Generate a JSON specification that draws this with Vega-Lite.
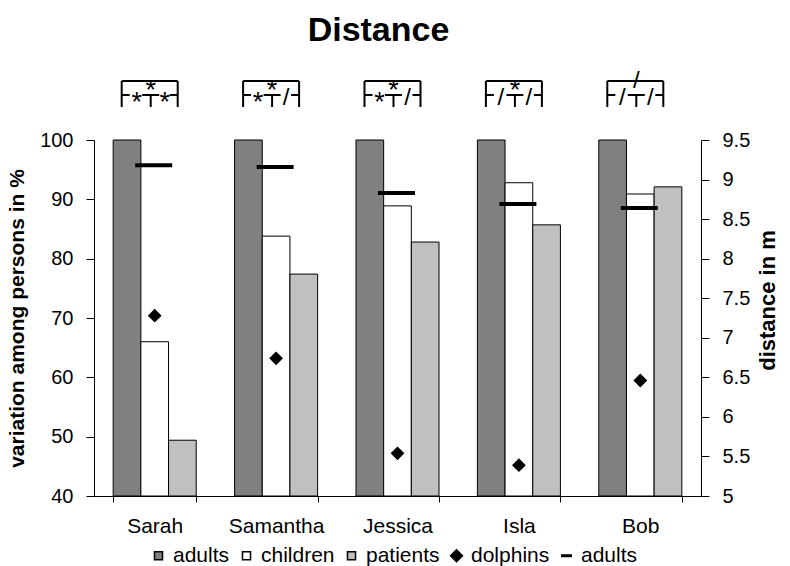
{
  "$schema": "https://vega.github.io/schema/vega-lite/v6.json",
  "width": 607,
  "height": 356,
  "autosize": {"type": "none"},
  "padding": {"left": 94, "top": 140, "right": 89, "bottom": 70},
  "background": "white",
  "config": {
    "font": "Liberation Sans",
    "view": {"stroke": null},
    "axis": {"grid": false, "domainColor": "black", "tickColor": "black", "labelColor": "black", "titleColor": "black", "domainWidth": 1, "tickWidth": 1}
  },
  "title": {"text": "Distance", "fontSize": 34, "fontWeight": "bold", "anchor": "middle", "offset": 21, "color": "black", "dx": -19},
  "datasets": {
    "bars": [
      {"name": "Sarah", "series": "adults", "value": 100},
      {"name": "Sarah", "series": "children", "value": 66.0},
      {"name": "Sarah", "series": "patients", "value": 49.4},
      {"name": "Samantha", "series": "adults", "value": 100},
      {"name": "Samantha", "series": "children", "value": 83.8},
      {"name": "Samantha", "series": "patients", "value": 77.4},
      {"name": "Jessica", "series": "adults", "value": 100},
      {"name": "Jessica", "series": "children", "value": 88.9},
      {"name": "Jessica", "series": "patients", "value": 82.8},
      {"name": "Isla", "series": "adults", "value": 100},
      {"name": "Isla", "series": "children", "value": 92.8},
      {"name": "Isla", "series": "patients", "value": 85.7},
      {"name": "Bob", "series": "adults", "value": 100},
      {"name": "Bob", "series": "children", "value": 90.9},
      {"name": "Bob", "series": "patients", "value": 92.1}
    ],
    "dist": [
      {"name": "Sarah", "series": "dolphins", "value": 7.28},
      {"name": "Samantha", "series": "dolphins", "value": 6.74},
      {"name": "Jessica", "series": "dolphins", "value": 5.54},
      {"name": "Isla", "series": "dolphins", "value": 5.39},
      {"name": "Bob", "series": "dolphins", "value": 6.46},
      {"name": "Sarah", "series": "adults (m)", "value": 9.18},
      {"name": "Samantha", "series": "adults (m)", "value": 9.16},
      {"name": "Jessica", "series": "adults (m)", "value": 8.83},
      {"name": "Isla", "series": "adults (m)", "value": 8.69},
      {"name": "Bob", "series": "adults (m)", "value": 8.64}
    ],
    "sig": [
      {"name": "Sarah", "top": "*", "left": "*", "right": "*"},
      {"name": "Samantha", "top": "*", "left": "*", "right": "/"},
      {"name": "Jessica", "top": "*", "left": "*", "right": "/"},
      {"name": "Isla", "top": "*", "left": "/", "right": "/"},
      {"name": "Bob", "top": "/", "left": "/", "right": "/"}
    ]
  },
  "layer": [
    {
      "layer": [
        {
          "data": {"name": "bars"},
          "mark": {"type": "bar", "stroke": "black", "strokeWidth": 1},
          "encoding": {
            "x": {
              "field": "name", "type": "nominal", "sort": null,
              "scale": {"domain": ["Sarah", "Samantha", "Jessica", "Isla", "Bob"], "paddingInner": 0.316, "paddingOuter": 0.158},
              "axis": {"title": null, "labelFontSize": 21, "tickSize": 6, "tickBand": "extent", "labelPadding": 13, "labelAngle": 0}
            },
            "xOffset": {"field": "series", "type": "nominal", "scale": {"domain": ["adults", "children", "patients"], "paddingInner": 0, "paddingOuter": 0}},
            "y": {
              "field": "value", "type": "quantitative",
              "scale": {"domain": [40, 100]},
              "axis": {"values": [40, 50, 60, 70, 80, 90, 100], "title": "variation among persons in %", "titleFontSize": 21, "titleFontWeight": "bold", "labelFontSize": 20, "tickSize": 8, "labelPadding": 13, "titlePadding": 12}
            },
            "y2": {"datum": 40},
            "fill": {
              "field": "series", "type": "nominal",
              "scale": {"domain": ["adults", "children", "patients", "dolphins", "adults (m)"], "range": ["#808080", "#ffffff", "#c0c0c0", "#000000", "#000000"]},
              "legend": {
                "orient": "none", "legendX": 54, "legendY": 405, "direction": "horizontal", "columns": 5, "title": null,
                "labelFontSize": 21, "labelColor": "black", "symbolSize": 144, "labelOffset": 4, "columnPadding": 6, "padding": 0,
                "labelExpr": "datum.label == 'adults (m)' ? 'adults' : datum.label",
                "encode": {"symbols": {"update": {"stroke": {"value": "black"}, "strokeWidth": {"value": 1}, "opacity": {"value": 1}}}}
              }
            }
          }
        },
        {
          "data": {"name": "sig"},
          "mark": {"type": "rule", "xOffset": -33, "strokeWidth": 2, "color": "black", "opacity": 1},
          "encoding": {"x": {"field": "name", "type": "nominal", "bandPosition": 0.5}, "y": {"datum": 109.94}, "y2": {"datum": 105.56}}
        },
        {
          "data": {"name": "sig"},
          "mark": {"type": "rule", "xOffset": 23, "strokeWidth": 2, "color": "black", "opacity": 1},
          "encoding": {"x": {"field": "name", "type": "nominal", "bandPosition": 0.5}, "y": {"datum": 109.94}, "y2": {"datum": 105.56}}
        },
        {
          "data": {"name": "sig"},
          "mark": {"type": "rule", "xOffset": -4, "strokeWidth": 2, "color": "black", "opacity": 1},
          "encoding": {"x": {"field": "name", "type": "nominal", "bandPosition": 0.5}, "y": {"datum": 107.58}, "y2": {"datum": 105.56}}
        },
        {
          "data": {"name": "sig"},
          "mark": {"type": "tick", "orient": "horizontal", "size": 56, "thickness": 2, "xOffset": -5, "color": "black", "opacity": 1},
          "encoding": {"x": {"field": "name", "type": "nominal"}, "y": {"datum": 109.94}}
        },
        {
          "data": {"name": "sig"},
          "mark": {"type": "tick", "orient": "horizontal", "size": 8, "thickness": 2, "xOffset": -29, "color": "black", "opacity": 1},
          "encoding": {"x": {"field": "name", "type": "nominal"}, "y": {"datum": 107.58}}
        },
        {
          "data": {"name": "sig"},
          "mark": {"type": "tick", "orient": "horizontal", "size": 17, "thickness": 2, "xOffset": -4, "color": "black", "opacity": 1},
          "encoding": {"x": {"field": "name", "type": "nominal"}, "y": {"datum": 107.58}}
        },
        {
          "data": {"name": "sig"},
          "mark": {"type": "tick", "orient": "horizontal", "size": 8, "thickness": 2, "xOffset": 19, "color": "black", "opacity": 1},
          "encoding": {"x": {"field": "name", "type": "nominal"}, "y": {"datum": 107.58}}
        },
        {
          "data": {"name": "sig"},
          "transform": [{"filter": "datum.top == '*'"}],
          "mark": {"type": "text", "fontSize": 27, "align": "center", "baseline": "alphabetic", "dx": -4, "color": "black"},
          "encoding": {"x": {"field": "name", "type": "nominal"}, "y": {"datum": 106.9}, "text": {"field": "top"}}
        },
        {
          "data": {"name": "sig"},
          "transform": [{"filter": "datum.top == '/'"}],
          "mark": {"type": "text", "fontSize": 24, "align": "center", "baseline": "alphabetic", "dx": -4, "color": "black"},
          "encoding": {"x": {"field": "name", "type": "nominal"}, "y": {"datum": 108.73}, "text": {"field": "top"}}
        },
        {
          "data": {"name": "sig"},
          "transform": [{"filter": "datum.left == '*'"}],
          "mark": {"type": "text", "fontSize": 27, "align": "center", "baseline": "alphabetic", "dx": -18, "color": "black"},
          "encoding": {"x": {"field": "name", "type": "nominal"}, "y": {"datum": 104.9}, "text": {"field": "left"}}
        },
        {
          "data": {"name": "sig"},
          "transform": [{"filter": "datum.left == '/'"}],
          "mark": {"type": "text", "fontSize": 24, "align": "center", "baseline": "alphabetic", "dx": -18, "color": "black"},
          "encoding": {"x": {"field": "name", "type": "nominal"}, "y": {"datum": 105.96}, "text": {"field": "left"}}
        },
        {
          "data": {"name": "sig"},
          "transform": [{"filter": "datum.right == '*'"}],
          "mark": {"type": "text", "fontSize": 27, "align": "center", "baseline": "alphabetic", "dx": 10, "color": "black"},
          "encoding": {"x": {"field": "name", "type": "nominal"}, "y": {"datum": 104.9}, "text": {"field": "right"}}
        },
        {
          "data": {"name": "sig"},
          "transform": [{"filter": "datum.right == '/'"}],
          "mark": {"type": "text", "fontSize": 24, "align": "center", "baseline": "alphabetic", "dx": 10, "color": "black"},
          "encoding": {"x": {"field": "name", "type": "nominal"}, "y": {"datum": 105.96}, "text": {"field": "right"}}
        }
      ]
    },
    {
      "data": {"name": "dist"},
      "layer": [
        {
          "transform": [{"filter": "datum.series == 'dolphins'"}],
          "mark": {"type": "point", "filled": true, "size": 190, "opacity": 1},
          "encoding": {
            "x": {"field": "name", "type": "nominal"},
            "y": {
              "field": "value", "type": "quantitative",
              "scale": {"domain": [5, 9.5]},
              "axis": {"orient": "right", "values": [5, 5.5, 6, 6.5, 7, 7.5, 8, 8.5, 9, 9.5], "format": "~g", "labelOverlap": false, "title": "distance in m", "titleAngle": -90, "titleBaseline": "top", "titleY": 160, "titleFontSize": 22, "titleFontWeight": "bold", "labelFontSize": 20, "tickSize": 8, "labelPadding": 13, "titlePadding": 8}
            },
            "fill": {"field": "series", "type": "nominal"},
            "shape": {
              "field": "series", "type": "nominal",
              "scale": {"domain": ["adults", "children", "patients", "dolphins", "adults (m)"], "range": ["M-0.67,-0.67H0.67V0.67H-0.67Z", "M-0.67,-0.67H0.67V0.67H-0.67Z", "M-0.67,-0.67H0.67V0.67H-0.67Z", "M-1,0L0,-1L1,0L0,1Z", "M-0.78,-0.14H0.78V0.14H-0.78Z"]},
              "legend": {
                "orient": "none", "legendX": 54, "legendY": 405, "direction": "horizontal", "columns": 5, "title": null,
                "labelFontSize": 21, "labelColor": "black", "symbolSize": 144, "labelOffset": 4, "columnPadding": 6, "padding": 0,
                "labelExpr": "datum.label == 'adults (m)' ? 'adults' : datum.label",
                "encode": {"symbols": {"update": {"stroke": {"value": "black"}, "strokeWidth": {"value": 1}, "opacity": {"value": 1}}}}
              }
            }
          }
        },
        {
          "transform": [{"filter": "datum.series == 'adults (m)'"}],
          "mark": {"type": "tick", "orient": "horizontal", "size": 37, "thickness": 4, "xOffset": -1, "color": "black", "opacity": 1},
          "encoding": {
            "x": {"field": "name", "type": "nominal"},
            "y": {
              "field": "value", "type": "quantitative",
              "axis": {"orient": "right", "values": [5, 5.5, 6, 6.5, 7, 7.5, 8, 8.5, 9, 9.5], "format": "~g", "labelOverlap": false, "title": "distance in m", "titleAngle": -90, "titleBaseline": "top", "titleY": 160, "titleFontSize": 22, "titleFontWeight": "bold", "labelFontSize": 20, "tickSize": 8, "labelPadding": 13, "titlePadding": 8}
            }
          }
        }
      ]
    }
  ],
  "resolve": {"scale": {"y": "independent"}}
}
